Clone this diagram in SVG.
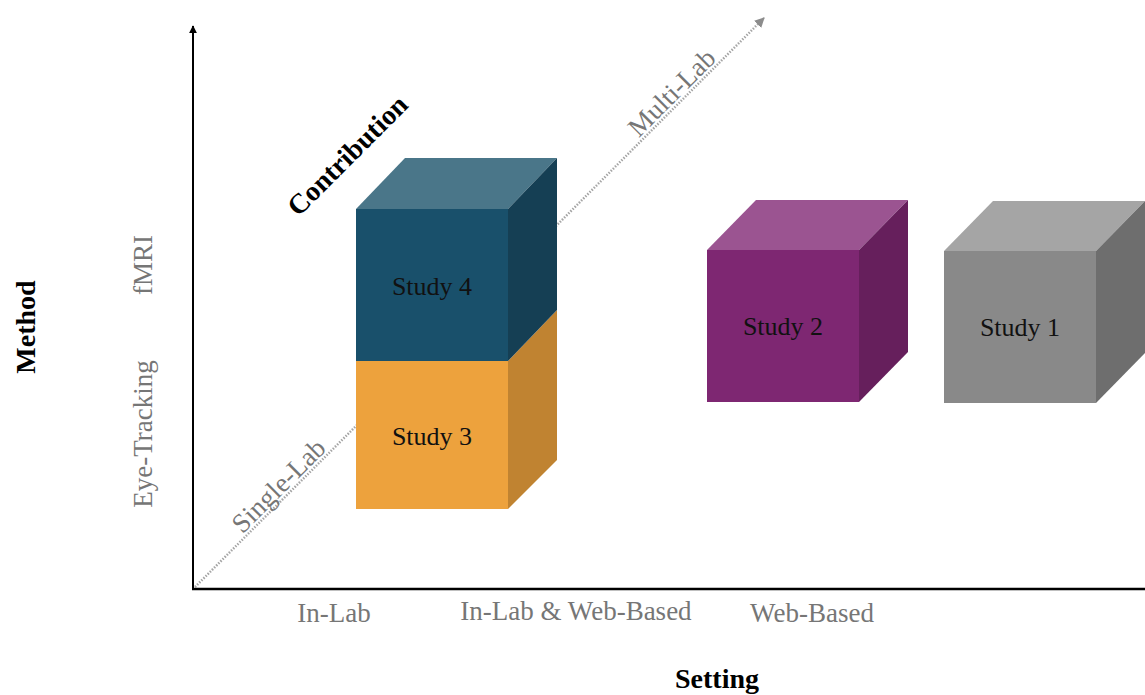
<svg xmlns="http://www.w3.org/2000/svg" width="1145" height="695" viewBox="0 0 1145 695">
  <style>
    .lbl { font-family: "Liberation Serif", serif; font-size: 26px; fill: #111; text-anchor: middle; }
    .axis-txt { font-family: "Liberation Serif", serif; font-size: 27px; fill: #767676; text-anchor: middle; }
    .title { font-family: "Liberation Serif", serif; font-size: 28px; font-weight: bold; fill: #000; text-anchor: middle; }
  </style>
  <defs>
    <marker id="arrowBlack" viewBox="0 0 10 10" refX="9" refY="5" markerWidth="4" markerHeight="4" orient="auto">
      <path d="M0,0 L10,5 L0,10 z" fill="#000"/>
    </marker>
    <marker id="arrowGray" viewBox="0 0 10 10" refX="9" refY="5" markerWidth="4" markerHeight="4" orient="auto">
      <path d="M0,0 L10,5 L0,10 z" fill="#8c8c8c"/>
    </marker>
  </defs>

  <rect width="1145" height="695" fill="#fff"/>

  <!-- axes and diagonal contribution guide -->
  <g id="connectors">
    <line x1="195" y1="587" x2="764" y2="18" stroke="#a6a6a6" stroke-width="2.5" stroke-dasharray="1.5 1.5" marker-end="url(#arrowGray)"/>
    <line x1="193" y1="590" x2="193" y2="26" stroke="#000" stroke-width="2" marker-end="url(#arrowBlack)"/>
    <line x1="192" y1="589" x2="1145" y2="589" stroke="#000" stroke-width="2.5"/>
  </g>

  <!-- axis labels -->
  <g id="labels">
    <text class="axis-txt" x="334" y="622">In-Lab</text>
    <text class="axis-txt" x="576" y="620">In-Lab &amp; Web-Based</text>
    <text class="axis-txt" x="812" y="622">Web-Based</text>
    <text class="title" x="717" y="688">Setting</text>
    <text class="title" transform="translate(35,327) rotate(-90)">Method</text>
    <text class="axis-txt" transform="translate(152,265) rotate(-90)">fMRI</text>
    <text class="axis-txt" transform="translate(152,434) rotate(-90)">Eye-Tracking</text>
    <text class="title" transform="translate(354,162) rotate(-45)">Contribution</text>
    <text class="axis-txt" transform="translate(678,99) rotate(-45)">Multi-Lab</text>
    <text class="axis-txt" transform="translate(285,492) rotate(-45)">Single-Lab</text>
  </g>

  <!-- Study 3 (bottom of stack) -->
  <g id="study3">
    <polygon points="508,361 557,310 557,460 508,509" fill="#c08331"/>
    <rect x="356" y="361" width="152" height="148" fill="#eda23d"/>
    <text class="lbl" x="432" y="445">Study 3</text>
  </g>

  <!-- Study 4 (top of stack) -->
  <g id="study4">
    <polygon points="356,209 405,158 557,158 508,209" fill="#4a7689"/>
    <polygon points="508,209 557,158 557,310 508,361" fill="#153f54"/>
    <rect x="356" y="209" width="152" height="152" fill="#19506b"/>
    <text class="lbl" x="432" y="295">Study 4</text>
  </g>

  <!-- Study 2 -->
  <g id="study2">
    <polygon points="707,250 756,200 908,200 859,250" fill="#9b5491"/>
    <polygon points="859,250 908,200 908,352 859,402" fill="#661f5c"/>
    <rect x="707" y="250" width="152" height="152" fill="#7e2772"/>
    <text class="lbl" x="783" y="335">Study 2</text>
  </g>

  <!-- Study 1 -->
  <g id="study1">
    <polygon points="944,251 993,201 1145,201 1096,251" fill="#a5a5a5"/>
    <polygon points="1096,251 1145,201 1145,353 1096,403" fill="#6e6e6e"/>
    <rect x="944" y="251" width="152" height="152" fill="#898989"/>
    <text class="lbl" x="1020" y="336">Study 1</text>
  </g>
</svg>
